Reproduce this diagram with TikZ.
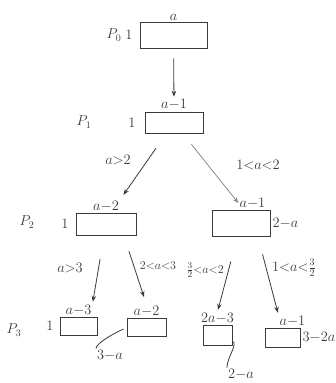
\documentclass[tikz,border=0pt]{standalone}
\usepackage{amsmath}
\usetikzlibrary{arrows.meta,positioning}
\definecolor{ink}{HTML}{3A3A3A}
\definecolor{ink2}{HTML}{8A8A8A}

\begin{document}
\begin{tikzpicture}[x=1pt,y=-1pt,font=\Large,
  box/.style={draw=ink,thick,inner sep=0pt},
  lbl/.style={ink,inner sep=1pt},
  tight/.style={lbl,font=\fontsize{13}{15}\selectfont},
  cut/.style={-{Stealth[length=6pt]},ink,thick,shorten <=2pt,shorten >=1pt}]
  \useasboundingbox (0,0) rectangle (335,383);
  % level 0
  \node[box,minimum width=67pt,minimum height=26pt] (p0) at (173.5,35) {};
  \node[lbl,above=0pt of p0] (t0) {$a$};
  \node[lbl,left=6pt of p0] (s0) {$1$};
  \node[lbl] (P0) at (114,35) {$P_0$};
  % level 1
  \node[box,minimum width=58pt,minimum height=21pt] (p1) at (174,122.5) {};
  \node[lbl,above=1pt of p1] (t1) {$a{-}1$};
  \node[lbl,left=8pt of p1] (s1) {$1$};
  \node[lbl] (P1) at (84,122) {$P_1$};
  \draw[cut,shorten <=10pt,shorten >=1pt] (p0) -- (t1);
  % level 2
  \node[box,minimum width=60pt,minimum height=22pt] (p2a) at (106,224) {};
  \node[lbl,above=0pt of p2a] (t2a) {$a{-}2$};
  \node[lbl,left=6pt of p2a] (s2a) {$1$};
  \node[lbl] (P2) at (27,222) {$P_2$};
  \node[box,minimum width=58pt,minimum height=26pt] (p2b) at (241,223) {};
  \node[lbl,above right=0pt and -32pt of p2b] (t2b) {$a{-}1$};
  \node[lbl,right=1pt of p2b] (s2b) {$2{-}a$};
  \draw[cut,shorten <=18pt,shorten >=6pt] (p1) -- (t2a.north east);
  \node[lbl] (c1a) at (118,160) {$a{>}2$};
  \draw[cut,ink2,shorten <=14pt,shorten >=0pt] (p1) -- (t2b.west);
  \node[lbl] (c1b) at (258,165) {$1{<}a{<}2$};
  % level 3
  \node[box,minimum width=37pt,minimum height=18pt] (p3a) at (78.5,326) {};
  \node[lbl,above=0pt of p3a] (t3a) {$a{-}3$};
  \node[lbl,left=5pt of p3a] (s3a) {$1$};
  \node[lbl] (P3) at (14,330) {$P_3$};
  \node[box,minimum width=39pt,minimum height=18pt] (p3b) at (146.5,327) {};
  \node[lbl,above=0pt of p3b] (t3b) {$a{-}2$};
  \node[lbl] (s3b) at (110,355) {$3{-}a$};
  \node[box,minimum width=29pt,minimum height=20pt] (p3c) at (217.5,335) {};
  \node[lbl,above=0pt of p3c] (t3c) {$2a{-}3$};
  \node[lbl] (s3c) at (241,374) {$2{-}a$};
  \node[box,minimum width=35pt,minimum height=19pt] (p3d) at (282.5,337.5) {};
  \node[lbl,above right=0pt and -22pt of p3d] (t3d) {$a{-}1$};
  \node[lbl,right=1pt of p3d] (s3d) {$3{-}2a$};
  \coordinate (c2a) at (124,236);
  \coordinate (c2b) at (258,237);
  \draw[cut,shorten <=24pt,shorten >=2pt] (p2a) -- (t3a.north east);
  \draw[cut,shorten <=16pt,shorten >=8pt] (c2a) -- (t3b.north);
  \draw[cut,shorten <=26pt,shorten >=2pt] (p2b) -- (t3c.north);
  \draw[cut,shorten <=18pt,shorten >=2pt] (c2b) -- (t3d.north west);
  \node[lbl] (c2aa) at (70,268) {$a{>}3$};
  \node[tight] (c2ab) at (158,266) {$2{<}a{<}3$};
  \node[tight] (c2ba) at (205,270) {$\tfrac32{<}a{<}2$};
  \node[lbl] (c2bb) at (294,268) {$1{<}a{<}\tfrac32$};
  % side lengths of the small boxes
  \draw[ink,thick] (p3b.west) ++(-3,2) .. controls +(-5,2) and +(0,-6) .. (s3b.north west);
  \draw[ink,thick] (p3c.south east) ++(0,-4) .. controls +(6,2) and +(0,-10) .. (s3c.north west);
\end{tikzpicture}
\end{document}
